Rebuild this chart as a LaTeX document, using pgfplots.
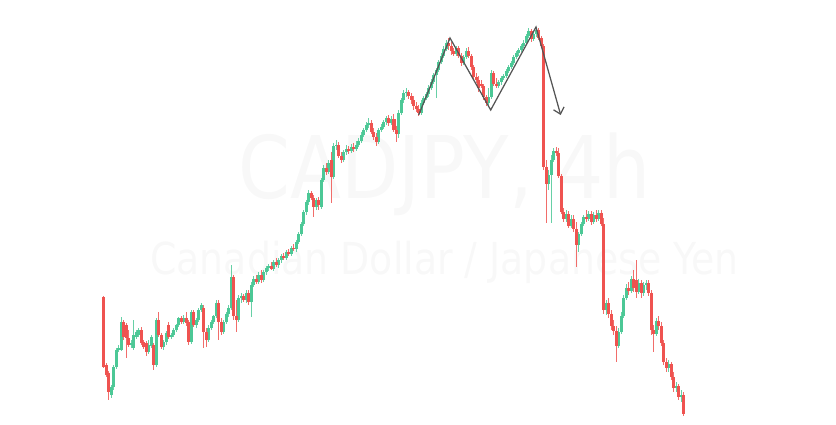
\documentclass[border=0pt]{standalone}
\usepackage{fontspec}
\newfontfamily\wmfont{DejaVu Sans}
\usepackage{pgfplots}
\usepackage{pgfplotstable}
\pgfplotsset{compat=1.18}
\usetikzlibrary{arrows.meta}

\definecolor{upc}{RGB}{76,200,150}
\definecolor{dnc}{RGB}{239,83,80}
\definecolor{wmark}{RGB}{248,248,248}
\definecolor{mline}{RGB}{85,85,85}

% candles in image pixels: i = index, o h l c (y grows downward)
\pgfplotstableread{
i o h l c
0 297 296 368 367
1 365 363 377 375
2 373 371 400 392
3 395 385 398 387
4 387 365 390 367
5 367 348 369 350
6 350 345 352 348
7 350 317 351 322
8 322 320 340 337
9 325 323 358 338
10 338 330 347 345
11 345 340 348 343
12 348 320 350 335
13 337 330 339 332
14 335 328 337 330
15 330 327 345 343
16 342 340 349 347
17 343 341 356 352
18 352 340 354 345
19 346 335 348 337
20 345 343 370 365
21 365 318 367 320
22 320 312 337 335
23 335 333 349 347
24 347 340 350 342
25 342 331 345 333
26 325 322 339 337
27 337 333 339 335
28 335 328 337 330
29 330 324 332 325
30 325 317 327 318
31 318 316 324 322
32 322 315 324 318
33 318 312 326 323
34 322 320 345 342
35 342 310 344 312
36 312 310 327 325
37 325 318 328 320
38 320 308 322 310
39 310 303 312 305
40 308 305 348 332
41 332 328 347 340
42 340 325 342 328
43 328 320 330 322
44 322 315 324 316
45 316 300 318 303
46 303 300 340 322
47 322 318 335 332
48 332 320 334 322
49 322 312 324 314
50 314 305 317 308
51 308 265 310 277
52 277 275 320 316
53 316 300 332 320
54 320 295 322 298
55 298 293 303 296
56 296 294 302 300
57 300 290 303 293
58 293 290 305 302
59 302 282 317 285
60 285 276 287 279
61 279 275 284 282
62 282 272 284 275
63 275 270 283 280
64 280 270 282 272
65 272 266 275 268
66 268 264 271 266
67 266 262 270 269
68 269 260 271 262
69 262 258 267 265
70 265 258 268 260
71 260 254 263 256
72 256 253 260 258
73 258 250 260 252
74 252 249 256 254
75 254 246 256 248
76 248 244 251 249
77 249 240 252 242
78 242 232 244 234
79 234 222 236 224
80 224 210 226 212
81 212 200 215 202
82 202 190 205 193
83 193 191 200 198
84 198 195 217 207
85 207 198 210 200
86 200 197 210 205
87 207 178 209 180
88 180 165 182 168
89 168 163 175 172
90 172 160 174 163
91 160 152 203 177
92 177 143 179 146
93 146 140 150 145
94 145 142 158 156
95 156 152 163 160
96 160 150 162 152
97 152 145 155 149
98 149 146 154 151
99 151 144 153 147
100 147 143 152 149
101 149 141 151 145
102 145 138 147 141
103 141 132 143 135
104 135 128 137 130
105 130 122 132 125
106 125 118 128 123
107 123 120 134 132
108 132 128 140 137
109 137 133 146 142
110 142 128 144 130
111 130 124 132 127
112 127 120 129 122
113 122 116 125 118
114 118 115 126 123
115 123 116 125 119
116 119 114 132 130
117 130 126 142 134
118 134 110 138 113
119 113 98 115 100
120 100 90 103 93
121 93 88 97 92
122 92 90 99 96
123 96 93 104 100
124 100 96 110 106
125 106 102 112 109
126 109 105 116 113
127 113 100 115 103
128 103 96 105 98
129 98 92 100 94
130 94 85 97 88
131 88 79 90 82
132 82 73 84 75
133 75 68 98 70
134 70 60 72 62
135 62 53 64 56
136 56 46 58 49
137 49 40 51 43
138 43 38 50 46
139 46 42 55 51
140 51 48 56 54
141 54 46 56 48
142 48 46 58 56
143 56 53 66 63
144 63 55 65 57
145 57 48 59 51
146 51 47 58 56
147 56 54 70 67
148 67 65 80 77
149 77 73 83 80
150 80 76 92 88
151 84 80 88 86
152 86 84 100 97
153 97 95 106 103
154 103 88 106 97
155 97 70 99 73
156 73 71 86 84
157 84 78 88 86
158 86 80 88 82
159 82 76 85 78
160 78 74 80 76
161 76 69 78 71
162 71 65 73 67
163 67 61 69 63
164 63 55 65 57
165 57 51 59 53
166 53 48 56 50
167 50 44 52 46
168 46 40 48 43
169 43 34 45 36
170 36 28 38 31
171 31 29 42 39
172 39 32 41 34
173 34 27 37 30
174 30 28 40 38
175 38 36 48 46
176 46 44 170 167
177 167 160 223 184
178 184 170 190 175
179 175 155 223 160
180 160 148 162 151
181 151 147 156 153
182 153 148 178 176
183 176 174 214 212
184 212 208 222 219
185 219 210 222 214
186 214 211 228 226
187 226 215 228 219
188 219 215 232 229
189 229 222 267 245
190 245 232 252 234
191 234 222 236 224
192 224 215 226 217
193 217 210 222 219
194 219 211 221 214
195 214 211 225 222
196 222 212 224 215
197 215 210 222 219
198 219 210 221 213
199 213 210 226 224
200 224 218 314 310
201 310 300 315 303
202 303 298 318 314
203 314 310 330 326
204 326 320 335 331
205 331 326 362 346
206 346 328 348 332
207 332 312 334 316
208 316 295 318 298
209 298 284 300 288
210 288 282 295 291
211 291 276 293 279
212 279 270 292 288
213 280 260 298 292
214 292 279 294 283
215 283 280 298 293
216 293 282 296 285
217 285 280 290 283
218 283 280 296 293
219 293 290 335 330
220 330 325 352 334
221 334 318 336 321
222 321 316 330 326
223 326 322 346 343
224 343 340 365 362
225 362 358 372 368
226 368 360 372 364
227 364 362 380 377
228 377 372 392 388
229 388 382 392 386
230 386 384 400 397
231 397 390 402 395
232 395 392 416 414
}\candles

\pgfplotsset{
  wick/.style={forget plot, mark=none, line width=0.4pt, line cap=butt,
    quiver={u=0, v={\thisrow{l}-\thisrow{h}}}},
  body/.style={forget plot, mark=none, line width=1.2pt, line cap=butt,
    quiver={u=0, v={\thisrow{c}-\thisrow{o}}}},
  isup/.style={restrict expr to domain={\thisrow{o}-\thisrow{c}}{0:10000}},
  isdown/.style={restrict expr to domain={\thisrow{c}-\thisrow{o}}{0.01:10000}},
}

\begin{document}
\begin{tikzpicture}
\begin{axis}[
  scale only axis,
  width=334.4pt, height=169.6pt,
  xmin=0, xmax=836, ymin=0, ymax=424,
  y dir=reverse,
  hide axis,
  clip=false,
]
  \path (axis cs:0,0) rectangle (axis cs:836,424);
  % watermark
  \node[anchor=base, xscale=0.86, text=wmark, inner sep=0pt,
        font=\wmfont\fontsize{34.6}{40}\selectfont] at (axis cs:444.5,198) {CADJPY, 4h};
  \node[anchor=base, xscale=0.86, text=wmark, inner sep=0pt,
        font=\wmfont\fontsize{17.6}{20}\selectfont] at (axis cs:444.5,274) {Canadian Dollar / Japanese Yen};

  % wicks
  \addplot[wick, isup, upc!85] table[x expr=104+2.5*\thisrow{i}, y=h] {\candles};
  \addplot[wick, isdown, dnc!85] table[x expr=104+2.5*\thisrow{i}, y=h] {\candles};
  % bodies
  \addplot[body, isup, upc] table[x expr=104+2.5*\thisrow{i}, y=o] {\candles};
  \addplot[body, isdown, dnc] table[x expr=104+2.5*\thisrow{i}, y=o] {\candles};

  % double top pattern
  \addplot[mline, line width=0.5pt, mark=none,
    -{Straight Barb[length=2.4pt, width=4.4pt]}]
    coordinates {(418.7,115) (450,38) (490.7,110) (536,27) (560.7,115)};
\end{axis}
\end{tikzpicture}
\end{document}
